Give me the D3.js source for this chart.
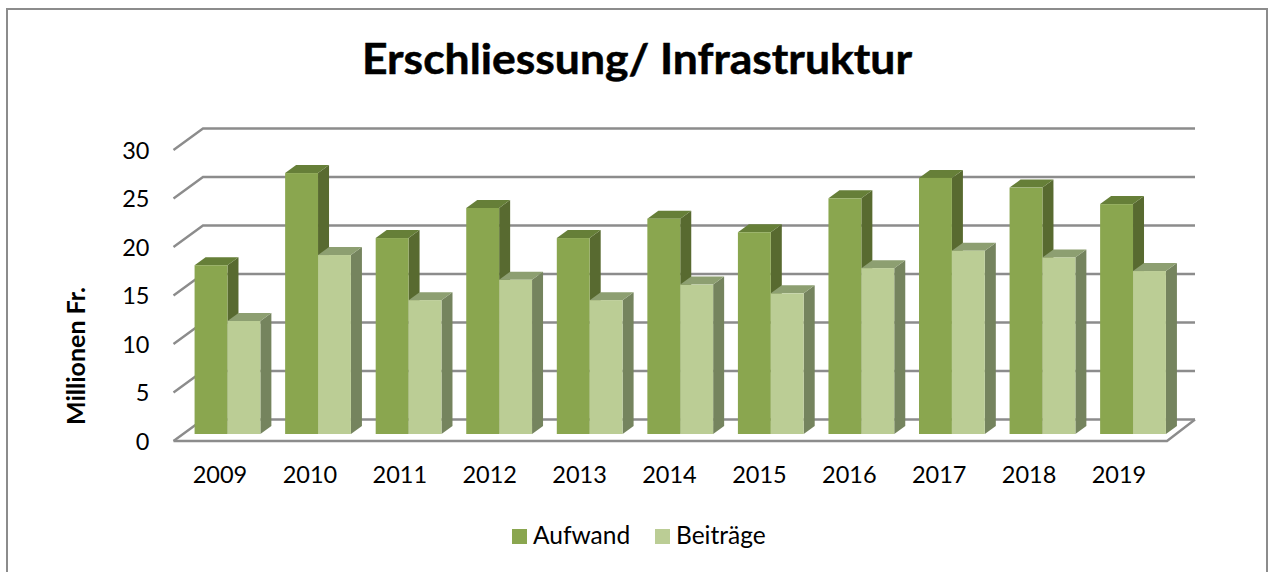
<!DOCTYPE html>
<html><head><meta charset="utf-8"><script src="https://cdn.jsdelivr.net/npm/d3@7/dist/d3.min.js"></script>
<style>html,body{margin:0;padding:0;background:#fff}svg{display:block}text{font-family:Lato,"Open Sans",sans-serif;fill:#000}</style></head>
<body><svg id="c" width="1268" height="572"></svg>
<script>
const years=["2009","2010","2011","2012","2013","2014","2015","2016","2017","2018","2019"];
const aufwand=[17.4,26.9,20.2,23.3,20.2,22.2,20.8,24.3,26.4,25.4,23.7];
const beitraege=[11.65,18.45,13.8,15.9,13.8,15.4,14.5,17.1,18.9,18.2,16.8];
const yTicks=[0,5,10,15,20,25,30];
const svg=d3.select("#c");
svg.append("rect").attr("x",7).attr("y",9).attr("width",1260).attr("height",580).attr("fill","#fff").attr("stroke","#8c8c8c").attr("stroke-width",2);
const yFront=d3.scaleLinear().domain([0,30]).range([441,150]);
const yBack=d3.scaleLinear().domain([0,30]).range([419.5,128.5]);
const yBar=d3.scaleLinear().domain([0,30]).range([434,143]);
const x=d3.scaleBand().domain(years).range([182.2,1178.3]);
const xLabel=d3.scalePoint().domain(years).range([220,1119]);
const bw=32.9, dx=11, dy=8, band=x.bandwidth();
const gridCol="#8c8c8c";
const g=svg.append("g");
yTicks.forEach(t=>{
  g.append("path").attr("d",`M173.5,${yFront(t)}L203,${yBack(t)}L1195,${yBack(t)}`).attr("fill","none").attr("stroke",gridCol).attr("stroke-width",2.4);
});
g.append("path").attr("d",`M173.5,${yFront(0)}L1167,${yFront(0)}L1195,${yBack(0)}`).attr("fill","none").attr("stroke",gridCol).attr("stroke-width",2.4);
function bar(px,v,front,top,side){
  const y=yBar(v),b=yBar(0);
  g.append("path").attr("d",`M${px+bw},${b}L${px+bw+dx},${b-dy}L${px+bw+dx},${y-dy}L${px+bw},${y}Z`).attr("fill",side);
  g.append("path").attr("d",`M${px},${y}L${px+dx},${y-dy}L${px+bw+dx},${y-dy}L${px+bw},${y}Z`).attr("fill",top);
  g.append("rect").attr("x",px).attr("y",y).attr("width",bw).attr("height",b-y).attr("fill",front);
}
years.forEach((yr,i)=>{
  const c=x(yr)+band/2;
  bar(c-bw,aufwand[i],"#8aa64f","#667f38","#586a30");
  bar(c,beitraege[i],"#bbcd95","#8d9f71","#75845e");
  g.append("text").attr("x",xLabel(yr)).attr("y",483).attr("text-anchor","middle").attr("font-size",23.5).text(yr);
});
yTicks.forEach(t=>{
  g.append("text").attr("x",149.5).attr("y",yFront(t)+8.5).attr("text-anchor","end").attr("font-size",23.5).text(t);
});
svg.append("text").attr("transform","translate(85,356) rotate(-90)").attr("text-anchor","middle").attr("font-size",24).attr("font-weight",700).attr("textLength",138).attr("lengthAdjust","spacingAndGlyphs").text("Millionen Fr.");
svg.append("text").attr("x",637).attr("y",74).attr("text-anchor","middle").attr("font-size",42).attr("font-weight",700).attr("stroke","#000").attr("stroke-width",0.5).attr("textLength",550).attr("lengthAdjust","spacingAndGlyphs").text("Erschliessung/ Infrastruktur");
const legend=[["Aufwand","#8aa64f",512],["Beiträge","#bbcd95",655]];
legend.forEach(([n,col,lx])=>{
  svg.append("rect").attr("x",lx).attr("y",529).attr("width",15).attr("height",15).attr("fill",col);
  svg.append("text").attr("x",lx+21).attr("y",544).attr("font-size",24.5).text(n);
});
</script></body></html>
